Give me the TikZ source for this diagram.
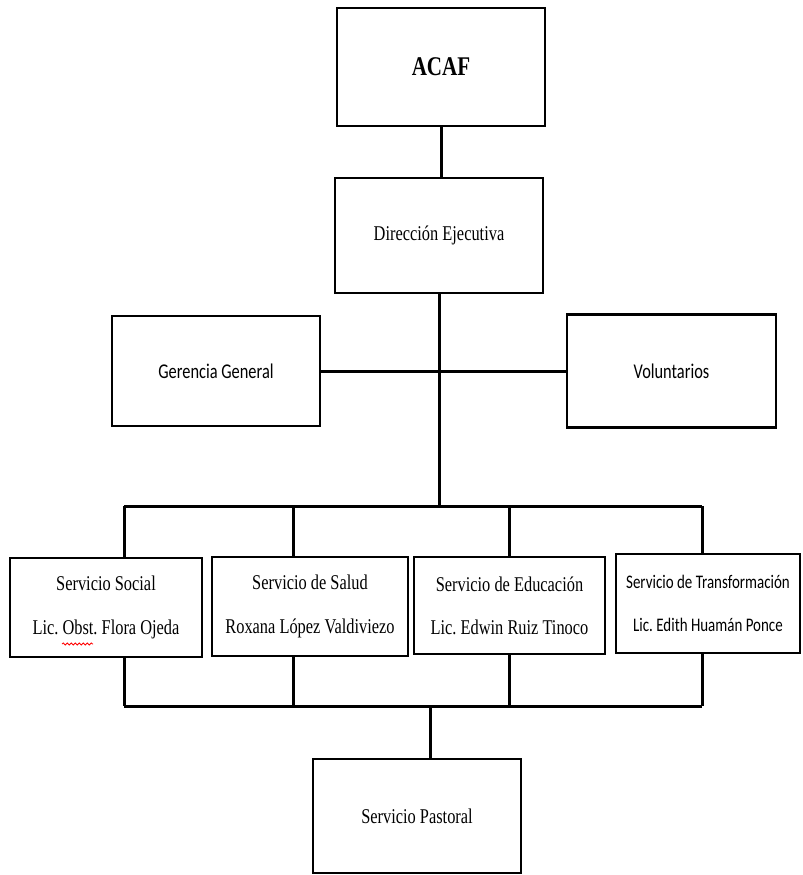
\documentclass[tikz,border=0pt]{standalone}
\usepackage{fontspec}
\usetikzlibrary{decorations.pathmorphing}
\setmainfont{Liberation Serif}[FakeStretch=0.78]
\newfontfamily\calib{Carlito}[FakeStretch=0.78]
\frenchspacing

\begin{document}
\begin{tikzpicture}[x=0.5pt,y=-0.5pt,
		caja/.style={draw,line width=1.1pt,inner sep=0pt,align=center,font=\fontsize{10.5}{12.6}\selectfont},
		linea/.style={line width=1.5pt}]
	\useasboundingbox (0,0) rectangle (803,875);

	\node[caja,minimum width=104pt,minimum height=59pt,font=\fontsize{13.5}{16}\selectfont\bfseries] (acaf) at (441,67) {ACAF};
	\node[caja,minimum width=104pt,minimum height=57.5pt] (dir) at (439,235.5) {Dirección Ejecutiva};
	\node[caja,minimum width=104pt,minimum height=55pt,font=\fontsize{10.5}{12.6}\selectfont\calib] (ger) at (216,371) {Gerencia General};
	\node[caja,minimum width=104.5pt,minimum height=56.5pt,font=\fontsize{10.5}{12.6}\selectfont\calib] (vol) at (671.5,371) {Voluntarios};

	\node[caja,minimum width=96pt,minimum height=49.5pt] (soc) at (106,607.5)
		{Servicio Social\\[9pt]Lic. Obst. Flora Ojeda};
	\node[caja,minimum width=98pt,minimum height=49.5pt] (sal) at (310,606.5)
		{Servicio de Salud\\[9pt]Roxana López Valdiviezo};
	\node[caja,minimum width=95.5pt,minimum height=48.5pt] (edu) at (509.5,605.5)
		{Servicio de Educación\\[9pt]Lic. Edwin Ruiz Tinoco};
	\node[caja,minimum width=92pt,minimum height=49.5pt,font=\fontsize{9.6}{11.5}\selectfont\calib] (tra) at (708,603.5)
		{Servicio de Transformación\\[10pt]Lic. Edith Huamán Ponce};
	\node[caja,minimum width=104pt,minimum height=57pt] (pas) at (417,816) {Servicio Pastoral};

	\draw[red,line width=0.4pt,decorate,decoration={snake,amplitude=0.5pt,segment length=2pt}] (62,644) -- (93,644);

	\coordinate (ba) at (124,506);
	\coordinate (bb) at (702,506);
	\coordinate (ca) at (124,706);
	\coordinate (cb) at (702,706);

	\draw[linea] (acaf.south) -- (acaf.south |- dir.north);
	\draw[linea] (dir.south) -- (dir.south |- ba);
	\draw[linea] (ger.east) -- (vol.west);
	\draw[linea] (ba) -- (bb);
	\draw[linea] (ca) -- (cb);
	\foreach \n/\x in {soc/124,sal/293,edu/509,tra/702}{
		\draw[linea] (\x,506) -- (\n.north -| \x,0);
		\draw[linea] (\n.south -| \x,0) -- (\x,706);
	}
	\draw[linea] (430,706) -- (pas.north -| 430,0);
\end{tikzpicture}
\end{document}
